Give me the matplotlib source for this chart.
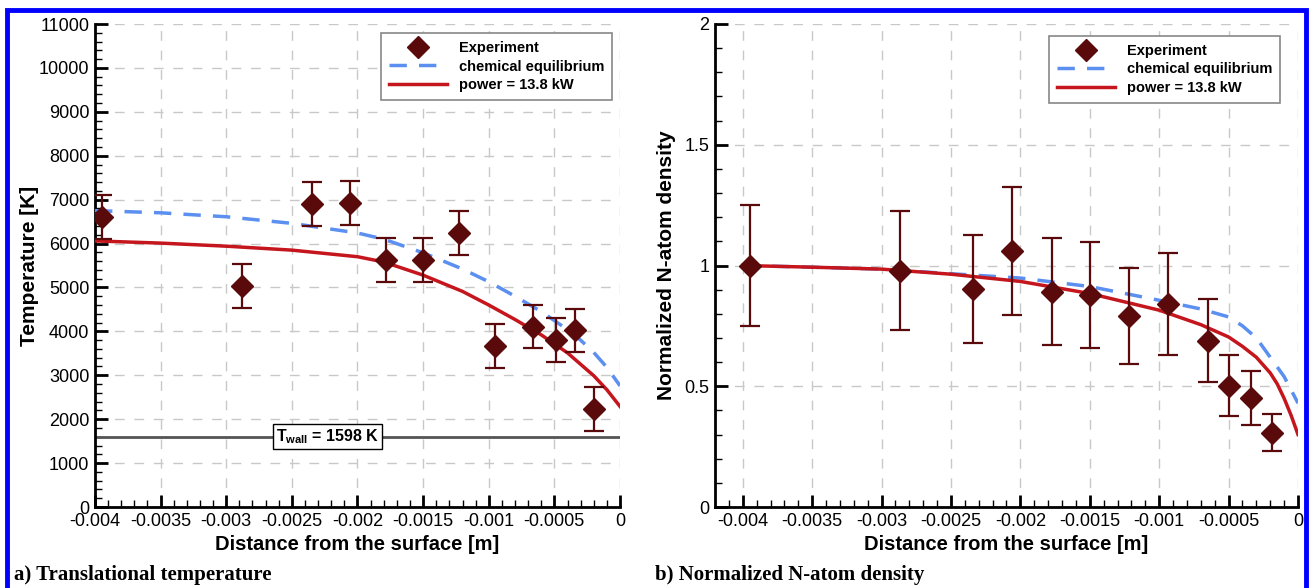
import matplotlib
matplotlib.use('Agg')
import matplotlib.pyplot as plt
from matplotlib.patches import Rectangle
from matplotlib.lines import Line2D
from matplotlib.ticker import MultipleLocator

# experiment points, a) temperature
x_exp_T = [-0.00395, -0.00288, -0.00235, -0.00206, -0.00178, -0.0015, -0.00123,
           -0.00095, -0.00066, -0.00049, -0.00034, -0.0002]
T_exp = [6600, 5030, 6900, 6920, 5620, 5630, 6230, 3670, 4110, 3810, 4020, 2240]
T_err = [500, 500, 500, 500, 500, 500, 500, 500, 500, 500, 500, 500]

# model curves, a)
x_eq_T = [-0.004, -0.0035, -0.003, -0.0025, -0.002, -0.0018, -0.0015, -0.0012, -0.001,
          -0.0008, -0.0006, -0.0004, -0.0003, -0.0002, -0.0001, 0.0]
T_eq = [6750, 6700, 6610, 6460, 6240, 6100, 5790, 5420, 5130, 4800, 4450, 4040,
        3800, 3520, 3180, 2760]
x_pw_T = [-0.004, -0.0035, -0.003, -0.0025, -0.002, -0.0018, -0.0015, -0.0012, -0.001,
          -0.0008, -0.0006, -0.0004, -0.0002, -0.0001, 0.0]
T_pw = [6060, 6010, 5940, 5850, 5700, 5580, 5280, 4910, 4600, 4270, 3920, 3510,
        2990, 2670, 2290]
T_wall = 1598

# experiment points, b) density
x_exp_n = [-0.00395, -0.00287, -0.00234, -0.00206, -0.00177, -0.0015, -0.00122,
           -0.00094, -0.00065, -0.0005, -0.00034, -0.00019]
n_exp = [1.0, 0.979, 0.903, 1.061, 0.892, 0.878, 0.79, 0.84, 0.688, 0.503, 0.452, 0.308]
n_err = [0.25, 0.245, 0.225, 0.265, 0.22, 0.218, 0.198, 0.21, 0.172, 0.125, 0.112, 0.076]

# model curves, b)
x_eq_n = [-0.004, -0.0035, -0.003, -0.0025, -0.002, -0.0015, -0.001, -0.0007, -0.0005,
          -0.0004, -0.0003, -0.0002, -0.0001, 0.0]
n_eq = [1.0, 0.993, 0.985, 0.966, 0.948, 0.913, 0.856, 0.82, 0.787, 0.75, 0.70, 0.62,
        0.54, 0.43]
x_pw_n = [-0.004, -0.0035, -0.003, -0.0025, -0.002, -0.0015, -0.001, -0.0007, -0.0005,
          -0.0004, -0.0003, -0.0002, -0.00015, -0.0001, -0.00005, 0.0]
n_pw = [1.0, 0.993, 0.985, 0.964, 0.934, 0.884, 0.815, 0.755, 0.704, 0.665, 0.62, 0.555,
        0.51, 0.45, 0.38, 0.30]

plt.rcParams['font.family'] = ['Liberation Sans', 'DejaVu Sans']

red = '#c4161c'
blue = '#5b8ff0'
maroon = '#5a0a0a'
grid_col = '#c8c8c8'
eq_dash = (0, (5, 3.5))

fig = plt.figure(figsize=(13.11, 5.88), dpi=100)

ax1 = fig.add_axes([95/1311, 1-507/588, (620-95)/1311, (507-24)/588])
ax2 = fig.add_axes([715/1311, 1-507/588, (1298-715)/1311, (507-24)/588])


def style_axes(ax):
    for s in ['top', 'right']:
        ax.spines[s].set_visible(False)
    for s in ['left', 'bottom']:
        ax.spines[s].set_linewidth(2)
    ax.tick_params(which='major', direction='in', length=9, width=2, labelsize=13,
                   top=False, right=False, pad=4)
    ax.tick_params(which='minor', direction='in', length=5, width=1,
                   top=False, right=False)
    ax.xaxis.set_major_locator(MultipleLocator(0.0005))
    ax.xaxis.set_minor_locator(MultipleLocator(0.0001))
    ax.grid(True, which='major', color=grid_col, linestyle=(0, (7, 7)), linewidth=1)
    ax.set_axisbelow(True)
    ax.set_xlabel('Distance from the surface [m]', fontsize=14.5, fontweight='bold',
                  labelpad=4)
    ax.xaxis.set_major_formatter(plt.FuncFormatter(lambda v, p: ('%g' % v) if abs(v) > 1e-9 else '0'))


# ---- a) temperature
ax = ax1
style_axes(ax)
ax.plot(x_eq_T, T_eq, color=blue, lw=2.5, ls=eq_dash, zorder=3)
ax.plot(x_pw_T, T_pw, color=red, lw=2.5, zorder=3)
ax.errorbar(x_exp_T, T_exp, yerr=T_err, fmt='D', color=maroon, ms=11, ecolor=maroon,
            elinewidth=1.6, capsize=7, capthick=1.6, zorder=4)
ax.axhline(T_wall, color='#555555', lw=2, zorder=2)
ax.text(-0.00223, T_wall, r'T$_{\mathregular{wall}}$ = 1598 K', fontsize=11.5, fontweight='bold',
        ha='center', va='center', zorder=5,
        bbox=dict(boxstyle='square,pad=0.2', fc='white', ec='black', lw=1))
ax.set_xlim(-0.004, 0)
ax.set_ylim(0, 11000)
ax.yaxis.set_major_locator(MultipleLocator(1000))
ax.yaxis.set_minor_locator(MultipleLocator(200))
ax.set_ylabel('Temperature [K]', fontsize=15, fontweight='bold', labelpad=0)

# ---- b) density
ax = ax2
style_axes(ax)
ax.plot(x_eq_n, n_eq, color=blue, lw=2.5, ls=eq_dash, zorder=3)
ax.plot(x_pw_n, n_pw, color=red, lw=2.5, zorder=3)
ax.errorbar(x_exp_n, n_exp, yerr=n_err, fmt='D', color=maroon, ms=11, ecolor=maroon,
            elinewidth=1.6, capsize=7, capthick=1.6, zorder=4)
ax.set_xlim(-0.0042, 0)
ax.set_ylim(0, 2)
ax.yaxis.set_major_locator(MultipleLocator(0.5))
ax.yaxis.set_minor_locator(MultipleLocator(0.1))
ax.yaxis.set_major_formatter(plt.FuncFormatter(lambda v, p: '%g' % v))
ax.set_ylabel('Normalized N-atom density', fontsize=15, fontweight='bold', labelpad=6)

handles = [Line2D([], [], ls='none', marker='D', ms=11, color=maroon),
           Line2D([], [], color=blue, lw=2.5, ls=eq_dash),
           Line2D([], [], color=red, lw=2.5)]
labels = ['Experiment', 'chemical equilibrium', 'power = 13.8 kW']
for ax, anchor in ((ax1, (0.985, 0.981)), (ax2, (0.969, 0.975))):
    leg = ax.legend(handles, labels, loc='upper right', bbox_to_anchor=anchor,
                    borderaxespad=0, fancybox=False, framealpha=1,
                    edgecolor='#888888', prop={'weight': 'bold', 'size': 10.5},
                    handlelength=4.0, labelspacing=0.3, borderpad=0.55,
                    handletextpad=0.8)
    leg.get_frame().set_linewidth(1.2)

# captions
fig.text(14/1311, 1-575/588, 'a) Translational temperature', family='Liberation Serif',
         fontsize=15, fontweight='bold', va='center', ha='left')
fig.text(655/1311, 1-575/588, 'b) Normalized N-atom density', family='Liberation Serif',
         fontsize=15, fontweight='bold', va='center', ha='left')

# blue frame
fig.patches.append(Rectangle((7/1311, -0.05), (1306-7)/1311, 1-10/588 + 0.05,
                             transform=fig.transFigure, fill=False, ec='#0000ff', lw=3.5))

fig.savefig('out.png', dpi=100)
